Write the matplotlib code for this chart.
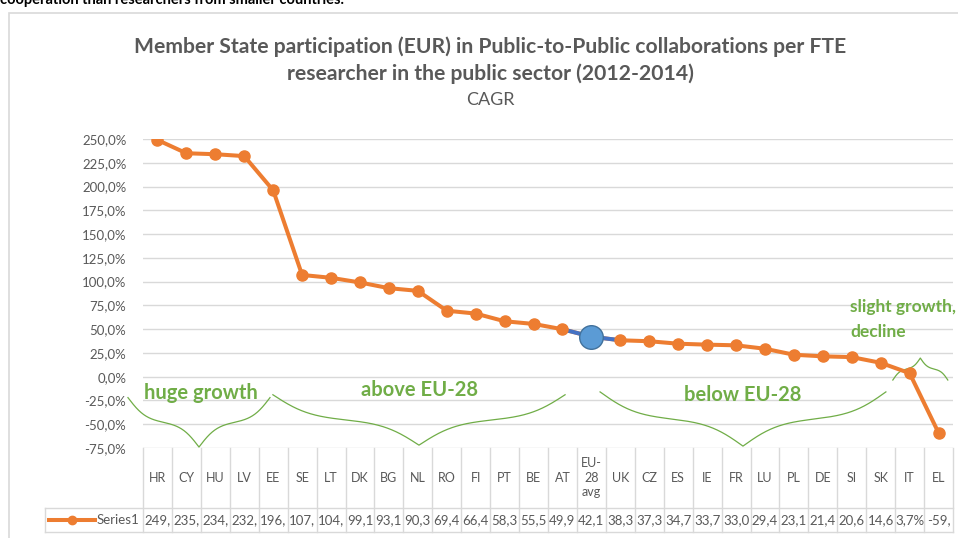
import numpy as np
import matplotlib
matplotlib.use("Agg")
import matplotlib.pyplot as plt
from matplotlib.patches import Rectangle
from matplotlib.ticker import FuncFormatter
from matplotlib.transforms import blended_transform_factory

countries = ["HR", "CY", "HU", "LV", "EE", "SE", "LT", "DK", "BG", "NL", "RO", "FI", "PT", "BE", "AT",
             "EU-\n28\navg", "UK", "CZ", "ES", "IE", "FR", "LU", "PL", "DE", "SI", "SK", "IT", "EL"]
cagr = [249.0, 235.0, 234.0, 232.0, 196.0, 107.0, 104.0, 99.1, 93.1, 90.3, 69.4, 66.4, 58.3, 55.5, 49.9,
        42.1, 38.3, 37.3, 34.7, 33.7, 33.0, 29.4, 23.1, 21.4, 20.6, 14.6, 3.7, -59.0]
eu_idx = 15

# group annotations: (label, brace x start, x end, brace end y, brace tip y, label x, label y)
groups = [("huge growth", -1.02, 3.89, -22, -74, 1.5, -17),
          ("above EU-28", 3.99, 14.09, -19, -72, 9.07, -14),
          ("below EU-28", 15.3, 25.18, -16, -73, 20.24, -19)]

orange = "#ED7D31"
blue_fill = "#5B9BD5"
blue_line = "#4472C4"
green = "#70AD47"
grey_txt = "#595959"
grid_c = "#D9D9D9"

plt.rcParams["font.family"] = ["Lato", "DejaVu Sans"]

fig = plt.figure(figsize=(9.58, 5.38), dpi=100)
ax = fig.add_axes([143 / 958, 1 - 448 / 538, 810 / 958, 309 / 538])

# chart frame
fig.patches.append(Rectangle((9 / 958, -0.05), 1.2, 1 - 13 / 538 + 0.05, transform=fig.transFigure,
                             fill=False, edgecolor=grid_c, lw=1.2))
fig.text(0.0, 1 - 4 / 538, "cooperation than researchers from smaller countries.",
         fontsize=10.5, fontweight="bold", color="black", va="baseline")

x = np.arange(len(countries))
y = np.array(cagr)
n = len(countries)

ax.plot(x, y, color=orange, lw=2.9, zorder=3, solid_capstyle="round")
ax.plot(x[eu_idx - 1:eu_idx + 2], y[eu_idx - 1:eu_idx + 2], color=blue_line, lw=2.9, zorder=4)
mask = x != eu_idx
ax.plot(x[mask], y[mask], "o", color=orange, ms=8, zorder=5)
ax.plot([x[eu_idx]], [y[eu_idx]], "o", color=blue_fill, mec="#41719C", mew=1, ms=17, zorder=6)

ax.set_xlim(-0.5, n - 0.5)
ax.set_ylim(-75, 250)
ax.set_yticks(np.arange(-75, 251, 25))
ax.yaxis.set_major_formatter(FuncFormatter(lambda v, p: f"{v:.1f}%".replace(".", ",")))
ax.tick_params(axis="y", length=0, pad=12, labelsize=9.5, labelcolor=grey_txt)
ax.set_xticks([])
ax.grid(axis="y", color=grid_c, lw=1)
ax.set_axisbelow(True)
for s in ax.spines.values():
    s.set_visible(False)


def brace(x0, x1, y_end, y_tip, beta=15):
    t = np.linspace(0, 0.5, 200)
    h = 1 / (1 + np.exp(-beta * t)) + 1 / (1 + np.exp(-beta * (t - 0.5)))
    h = (h - h[0]) / (h[-1] - h[0])
    xs = np.concatenate([x0 + (x1 - x0) * t, x0 + (x1 - x0) * (t + 0.5)])
    ys = y_end + (y_tip - y_end) * np.concatenate([h, h[::-1]])
    ax.plot(xs, ys, color=green, lw=0.9, clip_on=False, zorder=2)


for label, x0, x1, ye, yt, lx, ly in groups:
    brace(x0, x1, ye, yt)
    ax.text(lx, ly, label, color=green, fontsize=14.5, fontweight="bold", ha="center", va="center")
brace(25.42, 27.32, -3.5, 19.6)
ax.text(23.94, 73, "slight growth,", color=green, fontsize=12.5, fontweight="bold", ha="left", va="center",
        clip_on=False)
ax.text(23.94, 47, "decline", color=green, fontsize=12.5, fontweight="bold", ha="left", va="center")

# data table under the axis
tr = blended_transform_factory(ax.transData, ax.transAxes)
y_head, y_bot = -0.194, -0.272
for i in range(n + 1):
    ax.plot([i - 0.5, i - 0.5], [0, y_bot], transform=tr, color=grid_c, lw=1, clip_on=False)
leg_x = -0.121
for yy in (y_head, y_bot):
    ax.plot([leg_x, 1], [yy, yy], transform=ax.transAxes, color=grid_c, lw=1, clip_on=False)
ax.plot([leg_x, leg_x], [y_head, y_bot], transform=ax.transAxes, color=grid_c, lw=1, clip_on=False)

for i, (c, v) in enumerate(zip(countries, cagr)):
    ax.text(i, -0.097, c, transform=tr, ha="center", va="center", fontsize=9, color=grey_txt,
            linespacing=1.25)
    ax.text(i, -0.233, f"{v:.1f}%".replace(".", ",")[:4], transform=tr, ha="center", va="center",
            fontsize=9.5, color=grey_txt)

ax.plot([-0.116, -0.059], [-0.233, -0.233], transform=ax.transAxes, color=orange, lw=2.9, clip_on=False)
ax.plot([-0.0875], [-0.233], "o", transform=ax.transAxes, color=orange, ms=6, clip_on=False)
ax.text(-0.005, -0.233, "Series1", transform=ax.transAxes, ha="right", va="center", fontsize=9.5,
        color=grey_txt)

fig.text(490 / 958, 1 - 47 / 538, "Member State participation (EUR) in Public-to-Public collaborations per FTE",
         ha="center", va="center", fontsize=15.2, fontweight="bold", color=grey_txt)
fig.text(490 / 958, 1 - 74 / 538, "researcher in the public sector (2012-2014)",
         ha="center", va="center", fontsize=15.2, fontweight="bold", color=grey_txt)
fig.text(490 / 958, 1 - 100 / 538, "CAGR", ha="center", va="center", fontsize=13, color=grey_txt)

fig.savefig("out.png", dpi=100)
